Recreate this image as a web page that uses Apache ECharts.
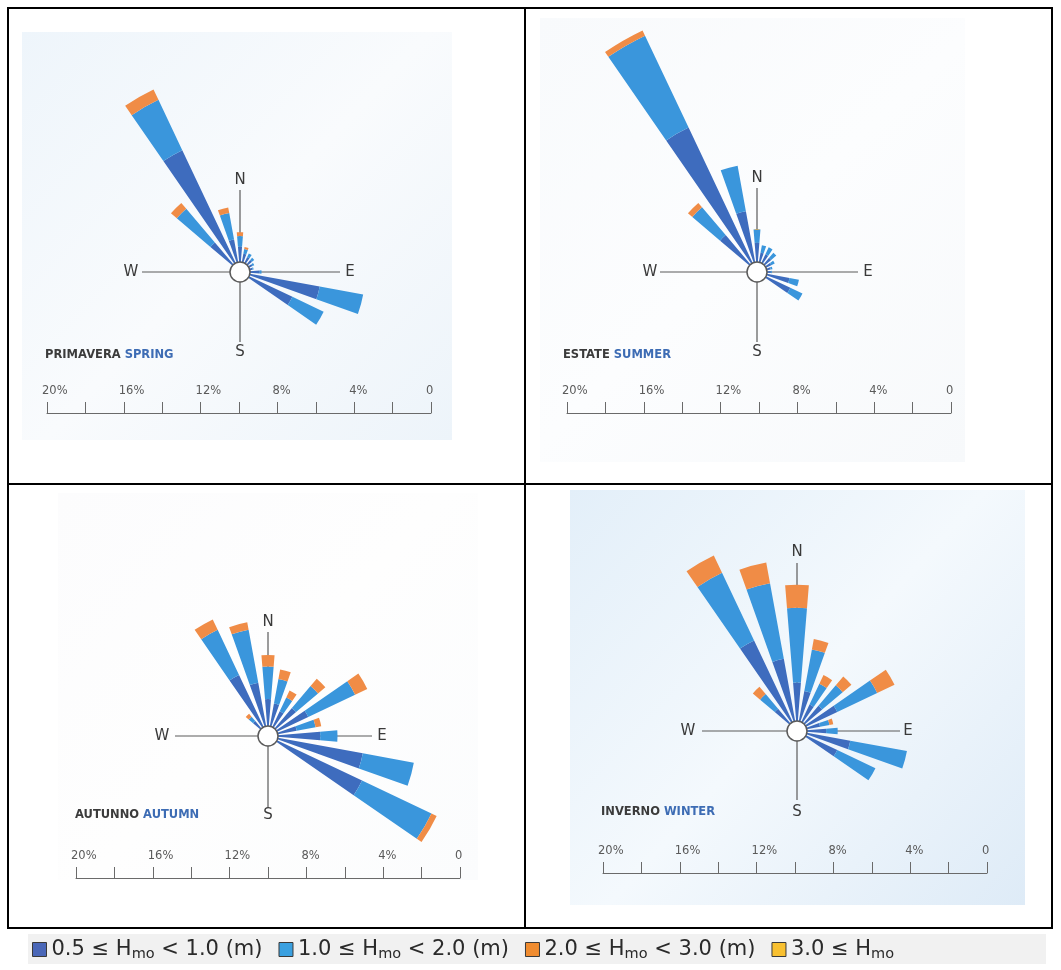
<!DOCTYPE html>
<html>
<head>
<meta charset="utf-8">
<script src="https://cdn.jsdelivr.net/npm/echarts@6/dist/echarts.min.js"></script>
<style>
  html, body { margin: 0; padding: 0; background: #ffffff; }
  #chart { width: 1061px; height: 970px; }
</style>
</head>
<body>
<div id="chart"></div>
<script>
// Wave direction sectors, 15° wide, clockwise from North
const directions = ['0°','15°','30°','45°','60°','75°','90°','105°','120°','135°','150°','165°',
  '180°','195°','210°','225°','240°','255°','270°','285°','300°','315°','330°','345°'];

// Wave height classes (stacked from the centre outwards)
const classNames = ['0.5 ≤ Hmo < 1.0 (m)', '1.0 ≤ Hmo < 2.0 (m)', '2.0 ≤ Hmo < 3.0 (m)', '3.0 ≤ Hmo'];

// Frequencies in % per direction sector
const springDark   = [0.8,0.45,0.35,0.3,0.2,0.15,0.5,3.7,2.5,0,0,0,0,0,0,0,0,0,0,0,0,1.5,6.5,1.2];
const springLight  = [0.55,0.25,0.2,0.15,0.1,0.05,0.1,2.3,1.8,0,0,0,0,0,0,0,0,0,0,0,0,2.3,2.9,1.4];
const springOrange = [0.2,0.1,0,0,0,0,0,0,0,0,0,0,0,0,0,0,0,0,0,0,0,0.4,0.6,0.3];
const springYellow = [0,0,0,0,0,0,0,0,0,0,0,0,0,0,0,0,0,0,0,0,0,0,0,0];

const summerDark   = [1.0,0.5,0.5,0.45,0.3,0.2,0.2,1.2,1.4,0,0,0,0,0,0,0,0,0,0,0,0,2.0,7.8,2.7];
const summerLight  = [0.7,0.4,0.4,0.35,0.2,0.1,0.05,0.5,0.7,0,0,0,0,0,0,0,0,0,0,0,0,1.9,5.3,2.4];
const summerOrange = [0,0,0,0,0,0,0,0,0,0,0,0,0,0,0,0,0,0,0,0,0,0.3,0.3,0];
const summerYellow = [0,0,0,0,0,0,0,0,0,0,0,0,0,0,0,0,0,0,0,0,0,0,0,0];

const autumnDark   = [1.4,1.2,0.9,1.4,1.8,1.0,2.2,4.5,4.9,0,0,0,0,0,0,0,0,0,0,0,0,0.5,3.0,2.3];
const autumnLight  = [1.7,1.3,0.8,1.5,2.7,1.0,0.9,2.7,4.0,0,0,0,0,0,0,0,0,0,0,0,0,0.3,2.6,2.8];
const autumnOrange = [0.6,0.5,0.4,0.5,0.7,0.3,0,0,0.3,0,0,0,0,0,0,0,0,0,0,0,0,0.2,0.6,0.4];
const autumnYellow = [0,0,0,0,0,0,0,0,0,0,0,0,0,0,0,0,0,0,0,0,0,0,0,0];

const winterDark   = [2.0,1.6,1.0,1.2,1.8,0.7,1.0,2.3,1.8,0,0,0,0,0,0,0,0,0,0,0,0,1.0,4.7,3.3];
const winterLight  = [3.9,2.2,1.2,1.4,2.3,0.5,0.6,3.0,2.2,0,0,0,0,0,0,0,0,0,0,0,0,1.0,3.9,4.0];
const winterOrange = [1.2,0.55,0.5,0.6,1.0,0.2,0,0,0,0,0,0,0,0,0,0,0,0,0,0,0,0.5,1.0,1.1];
const winterYellow = [0,0,0,0,0,0,0,0,0,0,0,0,0,0,0,0,0,0,0,0,0,0,0,0];

// Distance scale: values and their printed labels
const scaleLabels = { 20: '20%', 16: '16%', 12: '12%', 8: '8%', 4: '4%', 0: '0' };

const classColors = ['#3e6cbe', '#3a96dc', '#f08c46', '#f6be2c'];
const legendColors = ['#4a67b8', '#3aa0e0', '#f08c30', '#f8c030'];

const PPP = 19.2;      // pixels per percent, shared by roses and scale bars
const HOLE = 10;       // radius of the central circle
const RMAX = 14;       // radial axis maximum (%)

const panels = [
  { it: 'PRIMAVERA', en: 'SPRING', data: [springDark, springLight, springOrange, springYellow],
    c: [240, 272], arms: [82, 100, 70, 98], lab: [92, 110, 80, 109],
    title: [45, 349], scale: [47, 413], bg: [22, 32, 430, 408], bgc: ['#eef5fb', '#f9fbfd', '#edf4fa'] },
  { it: 'ESTATE', en: 'SUMMER', data: [summerDark, summerLight, summerOrange, summerYellow],
    c: [757, 272], arms: [84, 101, 70, 97], lab: [94, 111, 80, 107],
    title: [563, 349], scale: [567, 413], bg: [540, 18, 425, 444], bgc: ['#f8fafc', '#fcfdfe', '#f7f9fb'] },
  { it: 'AUTUNNO', en: 'AUTUMN', data: [autumnDark, autumnLight, autumnOrange, autumnYellow],
    c: [268, 736], arms: [104, 104, 71, 93], lab: [114, 114, 79, 106],
    title: [75, 809], scale: [76, 878], bg: [58, 493, 420, 387], bgc: ['#fcfcfd', '#fefefe', '#fbfcfd'] },
  { it: 'INVERNO', en: 'WINTER', data: [winterDark, winterLight, winterOrange, winterYellow],
    c: [797, 731], arms: [168, 103, 69, 95], lab: [179, 111, 81, 109],
    title: [601, 806], scale: [603, 873], bg: [570, 490, 455, 415], bgc: ['#e3eff9', '#f4f9fd', '#deebf7'] }
];

const FONT = '"DejaVu Sans", "Liberation Sans", Arial, sans-serif';

const polar = [], angleAxis = [], radiusAxis = [], series = [], grid = [], xAxis = [], yAxis = [], title = [];
const elements = [];

panels.forEach((p, i) => {
  polar.push({ center: p.c, radius: [HOLE, HOLE + RMAX * PPP] });
  angleAxis.push({
    polarIndex: i, type: 'category', data: directions, startAngle: 90 + 7.5, boundaryGap: true,
    axisLine: { show: false }, axisTick: { show: false }, axisLabel: { show: false }, splitLine: { show: false }
  });
  radiusAxis.push({
    polarIndex: i, type: 'value', min: 0, max: RMAX,
    axisLine: { show: false }, axisTick: { show: false }, axisLabel: { show: false }, splitLine: { show: false }
  });
  p.data.forEach((arr, k) => {
    series.push({
      type: 'bar', coordinateSystem: 'polar', polarIndex: i, stack: 'rose' + i,
      name: classNames[k], data: arr, barCategoryGap: '38%',
      itemStyle: { color: classColors[k] }, silent: true
    });
  });

  // distance scale bar
  grid.push({ left: p.scale[0], top: p.scale[1], width: 20 * PPP, height: 10 });
  xAxis.push({
    gridIndex: i, type: 'value', min: 0, max: 20, interval: 2, inverse: true, position: 'top',
    axisLine: { onZero: false, lineStyle: { color: '#6a6a6a', width: 1 } },
    axisTick: { length: 11, lineStyle: { color: '#6a6a6a', width: 1 } },
    splitLine: { show: false },
    axisLabel: {
      margin: 16, interval: 0, showMinLabel: true, showMaxLabel: true, align: 'left',
      padding: [0, 0, 0, -5], color: '#5a5a5a', fontSize: 11.5, fontFamily: FONT,
      formatter: v => (scaleLabels[v] !== undefined ? scaleLabels[v] : '')
    }
  });
  yAxis.push({ gridIndex: i, type: 'value', show: false });

  // season caption
  title.push({
    left: p.title[0], top: p.title[1], padding: 0,
    text: '{a|' + p.it + ' }{b|' + p.en + '}',
    textStyle: { rich: {
      a: { fontSize: 11.5, fontWeight: 'bold', color: '#3b3b3b', fontFamily: FONT },
      b: { fontSize: 11.5, fontWeight: 'bold', color: '#3d6cb4', fontFamily: FONT }
    } }
  });

  // panel background
  elements.push({
    type: 'rect', z: -20, silent: true,
    shape: { x: p.bg[0], y: p.bg[1], width: p.bg[2], height: p.bg[3] },
    style: { fill: new echarts.graphic.LinearGradient(0, 0, 1, 1, [
      { offset: 0, color: p.bgc[0] }, { offset: 0.5, color: p.bgc[1] }, { offset: 1, color: p.bgc[2] }
    ]) }
  });

  // compass cross and cardinal letters
  const [cx, cy] = p.c;
  const [aN, aE, aS, aW] = p.arms;
  const [lN, lE, lS, lW] = p.lab;
  const lineStyle = { stroke: '#5a5a5a', lineWidth: 1.2 };
  elements.push(
    { type: 'line', z: 1, silent: true, shape: { x1: cx, y1: cy - aN, x2: cx, y2: cy + aS }, style: lineStyle },
    { type: 'line', z: 1, silent: true, shape: { x1: cx - aW, y1: cy, x2: cx + aE, y2: cy }, style: lineStyle },
    { type: 'circle', z: 50, silent: true, shape: { cx: cx, cy: cy, r: HOLE },
      style: { fill: '#ffffff', stroke: '#5a5a5a', lineWidth: 1.5 } }
  );
  [['N', cx, cy - lN], ['E', cx + lE, cy], ['S', cx, cy + lS], ['W', cx - lW, cy]].forEach(t => {
    elements.push({
      type: 'text', z: 50, silent: true, x: t[1], y: t[2],
      style: { text: t[0], fill: '#3a3a3a', font: '15px ' + FONT, align: 'center', verticalAlign: 'middle' }
    });
  });
});

// frame around the four panels
const frame = { stroke: '#000000', lineWidth: 2 };
elements.push(
  { type: 'rect', z: 60, silent: true, shape: { x: 8, y: 8, width: 1044, height: 920 }, style: { fill: 'none', stroke: '#000', lineWidth: 2 } },
  { type: 'line', z: 60, silent: true, shape: { x1: 525, y1: 8, x2: 525, y2: 928 }, style: frame },
  { type: 'line', z: 60, silent: true, shape: { x1: 8, y1: 484, x2: 1052, y2: 484 }, style: frame },
  { type: 'rect', z: -20, silent: true, shape: { x: 28, y: 934, width: 1018, height: 30 }, style: { fill: '#f1f1f1' } }
);

const LEGEND_FONT = '"DejaVu Sans", "Liberation Sans", Arial, sans-serif';
const chart = echarts.init(document.getElementById('chart'), null, { renderer: 'canvas' });
chart.setOption({
  animation: false,
  backgroundColor: '#ffffff',
  title: title,
  polar: polar,
  angleAxis: angleAxis,
  radiusAxis: radiusAxis,
  grid: grid,
  xAxis: xAxis,
  yAxis: yAxis,
  legend: {
    left: 32, top: 939, itemWidth: 14, itemHeight: 14, itemGap: 16, selectedMode: false, padding: 0,
    data: classNames.map((n, k) => ({ name: n, itemStyle: { color: legendColors[k], borderColor: '#3a3a3a', borderWidth: 1 } })),
    icon: 'rect',
    formatter: n => '{t|' + n.replace('Hmo', 'H}{s|mo}{t|') + '}',
    textStyle: {
      rich: {
        t: { fontSize: 21, color: '#2a2a2a', fontFamily: LEGEND_FONT },
        s: { fontSize: 14.5, color: '#2a2a2a', padding: [9, 0, 0, 0], fontFamily: LEGEND_FONT }
      }
    }
  },
  graphic: { elements: elements },
  series: series
});
</script>
</body>
</html>
